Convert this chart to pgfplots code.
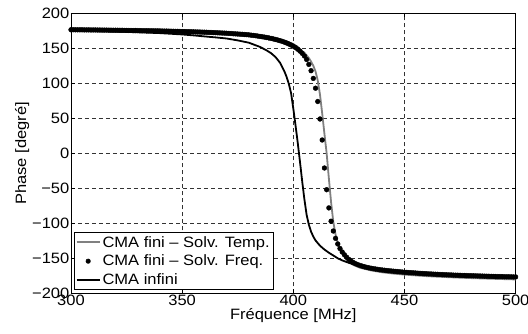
\documentclass[border=0pt]{standalone}
\usepackage{fontspec}
\setmainfont[FakeStretch=1.1]{Liberation Sans}
\usepackage{pgfplots}
\pgfplotsset{compat=1.18}
\definecolor{tempgray}{RGB}{128,128,128}
\pgfplotsset{lineleg/.style={legend image code/.code={\draw[##1] (0bp,0bp) -- (23bp,0bp);}}}
\begin{document}
\begin{tikzpicture}[font=\fontsize{15bp}{17bp}\selectfont]
\begin{axis}[
  width=444.6bp, height=280bp, scale only axis,
  xmin=300, xmax=500, ymin=-200, ymax=200,
  xtick={300,350,400,450,500},
  xticklabels={300,350,400,450,500},
  ytick={-200,-150,-100,-50,0,50,100,150,200},
  yticklabels={−200,−150,−100,−50,0,50,100,150,200},
  grid=major,
  major grid style={dash pattern=on 4bp off 3bp, black!80, line width=0.5bp},
  tick align=inside, major tick length=4bp,
  tick style={black, line width=0.5bp},
  axis line style={line width=0.8bp},
  xlabel={Fréquence [MHz]}, ylabel={Phase [degré]},
  yticklabel style={inner sep=1.5bp},
  xticklabel style={inner sep=1.5bp},
  xlabel style={inner sep=1bp},
  ylabel style={yshift=-2bp},
  legend cell align=left,
  legend style={at={(axis description cs:0.0067,0.0118)}, anchor=south west,
    draw=black, line width=0.6bp, inner sep=1.5bp, row sep=2.5bp,
    font=\fontsize{15bp}{16bp}\selectfont},
]
\addplot[tempgray, line width=1.8bp, lineleg] table {
300 176.8
320 176.2
340 175.2
350 174.4
360 173.5
370 172.2
380 170.0
385 168.3
390 166.0
395 162.0
398 158.5
400 156.0
402 152.0
404 146.0
405 143.5
406 140.0
407 136.0
408 131.0
409 125.0
410 117.0
411 104.0
412 84.0
413 57.0
414 28.0
415 0.0
416 -36.0
417 -70.0
418 -98.0
419 -116.0
420 -128.0
421 -137.0
422 -143.0
423 -148.0
424 -152.0
425 -155.0
427 -159.5
430 -163.5
435 -167.3
440 -170.0
445 -171.8
450 -173.3
460 -175.5
470 -177.0
480 -178.3
490 -179.3
500 -180.2
};
\addlegendentry{CMA fini – Solv. Temp.}
\addplot[only marks, mark=*, mark size=2.4bp, black,
  legend image code/.code={\fill[black] (11.5bp,0bp) circle (2.2bp);}] table {
300 176.5
301 176.5
302 176.4
303 176.4
304 176.4
305 176.4
306 176.3
307 176.3
308 176.3
309 176.2
310 176.2
311 176.2
312 176.1
313 176.1
314 176.0
315 176.0
316 176.0
317 175.9
318 175.9
319 175.8
320 175.8
321 175.8
322 175.7
323 175.7
324 175.6
325 175.6
326 175.5
327 175.5
328 175.4
329 175.4
330 175.3
331 175.3
332 175.2
333 175.2
334 175.1
335 175.1
336 175.0
337 175.0
338 174.9
339 174.9
340 174.8
341 174.7
342 174.6
343 174.6
344 174.5
345 174.4
346 174.3
347 174.2
348 174.2
349 174.1
350 174.0
351 173.9
352 173.8
353 173.7
354 173.6
355 173.5
356 173.4
357 173.3
358 173.2
359 173.1
360 173.0
361 172.9
362 172.7
363 172.6
364 172.4
365 172.3
366 172.1
367 172.0
368 171.8
369 171.7
370 171.5
371 171.3
372 171.1
373 170.8
374 170.6
375 170.4
376 170.2
377 170.0
378 169.7
379 169.5
380 169.2
381 168.8
382 168.4
383 168.0
384 167.5
385 167.0
386 166.5
387 166.0
388 165.4
389 164.8
390 164.1
391 163.4
392 162.6
393 161.8
394 160.9
395 159.9
396 158.8
397 157.6
398 156.2
399 154.7
400 153.0
401 151.0
402 148.7
403 146.0
404 142.8
405 139.0
406 134.0
407 127.0
408 118.0
409 107.0
410 93.0
411 74.0
412 49.0
413 19.0
414 -21.0
415 -52.0
416 -78.0
417 -97.0
418 -111.0
419 -121.5
420 -129.5
421 -136.0
422 -141.0
423 -145.0
424 -148.5
425 -151.5
426 -154.0
427 -156.0
428 -157.7
429 -159.0
430 -160.2
431 -161.2
432 -162.1
433 -162.9
434 -163.6
435 -164.2
436 -164.8
437 -165.3
438 -165.8
439 -166.3
440 -166.7
441 -167.1
442 -167.5
443 -167.8
444 -168.1
445 -168.4
446 -168.7
447 -169.0
448 -169.3
449 -169.6
450 -169.9
451 -170.1
452 -170.4
453 -170.6
454 -170.8
455 -171.0
456 -171.3
457 -171.5
458 -171.7
459 -171.9
460 -172.1
461 -172.3
462 -172.4
463 -172.6
464 -172.8
465 -172.9
466 -173.1
467 -173.3
468 -173.4
469 -173.6
470 -173.7
471 -173.8
472 -174.0
473 -174.1
474 -174.2
475 -174.3
476 -174.5
477 -174.6
478 -174.7
479 -174.8
480 -174.9
481 -175.0
482 -175.1
483 -175.2
484 -175.3
485 -175.4
486 -175.5
487 -175.6
488 -175.7
489 -175.8
490 -175.9
491 -176.0
492 -176.1
493 -176.1
494 -176.2
495 -176.3
496 -176.4
497 -176.4
498 -176.5
499 -176.6
500 -176.6
};
\addlegendentry{CMA fini – Solv. Freq.}
\addplot[black, line width=1.8bp, lineleg] table {
300 175.5
320 174.0
340 171.7
350 169.8
355 168.5
360 167.0
365 165.6
370 164.0
375 161.3
380 158.0
385 152.0
388 147.0
390 143.0
392 137.5
394 129.5
396 117.0
397 109.0
398 99.0
399 86.0
400 64.0
401 40.0
402 15.0
403 -12.0
404 -40.0
405 -66.0
406 -88.0
407 -102.0
408 -112.0
409 -119.0
410 -124.5
412 -132.0
414 -137.5
416 -142.0
418 -146.0
420 -150.0
422 -153.0
425 -156.5
428 -159.5
431 -162.0
435 -164.5
440 -166.8
445 -168.5
450 -169.9
460 -171.9
470 -173.3
480 -174.5
490 -175.4
500 -176.2
};
\addlegendentry{CMA infini}
\end{axis}
\pgfresetboundingbox
\path[use as bounding box] ([shift={(-71bp,-40.7bp)}]current axis.south west) rectangle ([shift={(12.4bp,13.3bp)}]current axis.north east);
\end{tikzpicture}
\end{document}
